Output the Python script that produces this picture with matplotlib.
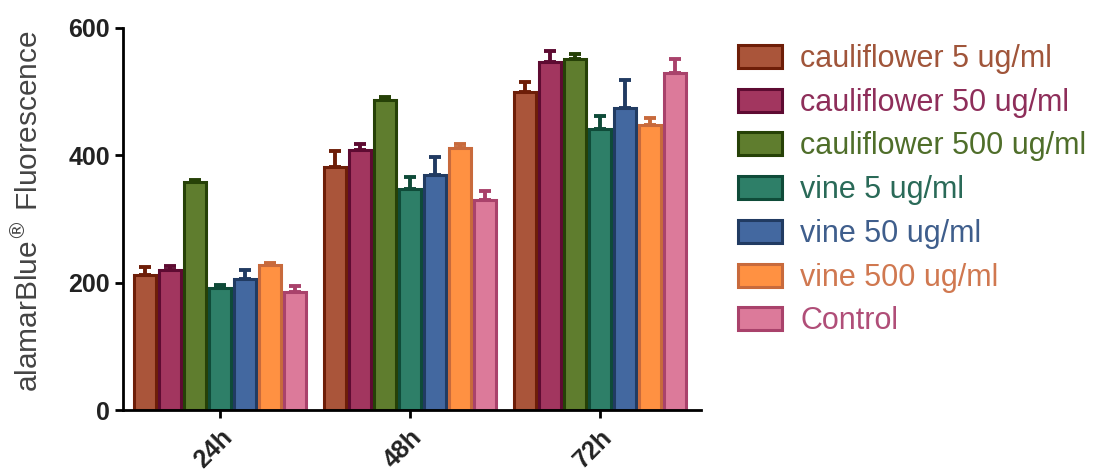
import numpy as np
import matplotlib
matplotlib.use("Agg")
import matplotlib.pyplot as plt

plt.rcParams['font.family'] = ['Liberation Sans', 'DejaVu Sans']

# alamarBlue readout per time point
timepoints = ['24h', '48h', '72h']
treatments = ['cauliflower 5 ug/ml', 'cauliflower 50 ug/ml', 'cauliflower 500 ug/ml',
              'vine 5 ug/ml', 'vine 50 ug/ml', 'vine 500 ug/ml', 'Control']

means = [
    [212, 382, 499],   # cauliflower 5
    [220, 408, 547],   # cauliflower 50
    [358, 487, 551],   # cauliflower 500
    [192, 347, 441],   # vine 5
    [206, 369, 474],   # vine 50
    [228, 411, 448],   # vine 500
    [186, 330, 529],   # Control
]
errors = [
    [13, 24, 16],
    [6, 10, 17],
    [3, 4, 8],
    [4, 19, 21],
    [14, 29, 44],
    [3, 7, 10],
    [9, 14, 23],
]

fills = ['#AA553A', '#A2365F', '#5F7D2E', '#2E7F68', '#4368A0', '#FF9142', '#DC7A9A']
edges = ['#6E1E08', '#5E0B32', '#264107', '#0F4B39', '#213B62', '#C86A3C', '#A9426B']
text_colors = ['#A0553A', '#8E2E5A', '#4F6E2A', '#2A6A58', '#3F5E8C', '#D07850', '#B04E78']

fig = plt.figure(figsize=(10.96, 4.74), dpi=100)
ax = fig.add_axes([0.1122, 0.135, 0.5274, 0.806])

x = np.arange(len(timepoints))
pitch = 0.1316
width = 0.116
for i, name in enumerate(treatments):
    pos = x + (i - 3) * pitch
    ax.bar(pos, means[i], width, color=fills[i], edgecolor=edges[i],
           linewidth=2.2, label=name, zorder=2)
    ax.errorbar(pos, means[i], yerr=[np.zeros(3), errors[i]], fmt='none',
                ecolor=edges[i], elinewidth=2.8, capsize=4, capthick=2.8, zorder=1)

ax.set_xlim(-0.51, 2.53)
ax.set_ylim(0, 600)
ax.set_yticks([0, 200, 400, 600])
ax.set_xticks(x)
ax.set_xticklabels(timepoints, rotation=45, ha='right', rotation_mode='anchor')

for s in ['top', 'right']:
    ax.spines[s].set_visible(False)
for s in ['left', 'bottom']:
    ax.spines[s].set_linewidth(2.0)
ax.tick_params(axis='both', width=2.0, length=6, labelsize=18)
ax.tick_params(axis='x', pad=5)
for lab in ax.get_xticklabels() + ax.get_yticklabels():
    lab.set_fontweight('bold')
    lab.set_color('#222222')

ax.set_ylabel(r'alamarBlue$^{\circledR}$ Fluorescence', fontsize=21.5, color='#444444')
ax.yaxis.set_label_coords(-0.137, 0.52)

fig.legend(loc='upper left', bbox_to_anchor=(0.662, 0.933), frameon=False,
           fontsize=22, labelcolor=text_colors, handlelength=1.45, handleheight=0.78,
           handletextpad=0.6, labelspacing=0.45, borderaxespad=0)

fig.savefig('out.png', dpi=100)
